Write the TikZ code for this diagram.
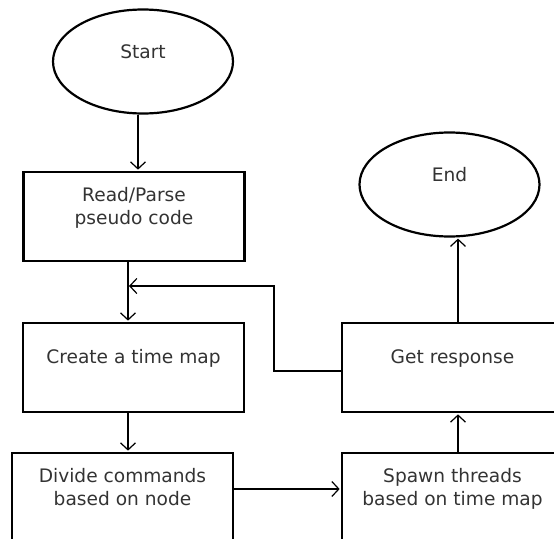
\documentclass[tikz,border=0pt]{standalone}
\usepackage{fontspec}
\setmainfont{DejaVu Sans}
\usetikzlibrary{arrows.meta,shapes.geometric}

\begin{document}
\begin{tikzpicture}[x=1pt,y=-1pt,->,>={Straight Barb[length=7pt,width=15pt]},
  shorten >=1pt,line width=1.2pt,font=\fontsize{18.6}{23}\selectfont,text=black!80,
  term/.style={ellipse,draw=black,line width=2.2pt,minimum width=180pt,
    minimum height=104pt,inner sep=0pt,text depth=20pt},
  proc/.style={rectangle,draw=black,line width=2.7pt,minimum width=221pt,
    minimum height=89pt,align=center,text depth=22pt}]

\useasboundingbox (0,0) rectangle (554,538);

\node[term] (start) at (143,61.5) {Start};
\node[proc] (read) at (134,216.5) {Read/Parse\\pseudo code};
\node[proc] (create) at (133.5,367.5) {Create a time map};
\node[proc] (divide) at (122.5,497.5) {Divide commands\\based on node};
\node[proc] (spawn) at (452.5,497.5) {Spawn threads\\based on time map};
\node[proc] (resp) at (452.5,367.5) {Get response};
\node[term] (stop) at (449.5,184.5) {End};

\coordinate (bend) at (274,286);
\coordinate (join) at (128,286);

\path ([xshift=-5pt]start.south) edge ([xshift=-5pt]start.south |- read.north)
  ([xshift=-6pt]read.south) edge ([xshift=-6pt]read.south |- create.north)
  ([xshift=-5.5pt]create.south) edge ([xshift=-5.5pt]create.south |- divide.north)
  ([yshift=8.5pt]divide.east) edge ([yshift=8.5pt]divide.east -| spawn.west)
  ([xshift=5.5pt]spawn.north) edge ([xshift=5.5pt]spawn.north |- resp.south)
  ([xshift=5.5pt]resp.north) edge ([xshift=5.5pt]resp.north |- stop.south);

\draw ([yshift=-3.5pt]resp.west) -| (bend) -- (join);

\end{tikzpicture}
\end{document}
